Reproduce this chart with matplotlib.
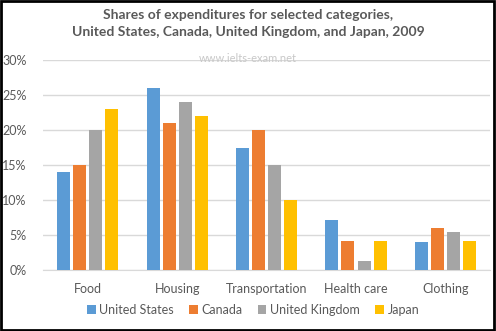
import numpy as np
import matplotlib.pyplot as plt
from matplotlib.patches import Rectangle

categories = ["Food", "Housing", "Transportation", "Health care", "Clothing"]
countries = ["United States", "Canada", "United Kingdom", "Japan"]

us = [14, 26, 17.4, 7.1, 4.0]
canada = [15, 21, 20, 4.2, 6.0]
uk = [20, 24, 15, 1.3, 5.5]
japan = [23, 22, 10, 4.2, 4.2]

colors = ["#5B9BD5", "#ED7D31", "#A5A5A5", "#FFC000"]
yticks = [0, 5, 10, 15, 20, 25, 30]

plt.rcParams['font.family'] = ['Lato', 'DejaVu Sans']

fig = plt.figure(figsize=(4.96, 3.31), dpi=100)
ax = fig.add_axes([0.087, 0.184, 0.901, 0.635])

x = np.arange(len(categories))
width = 0.145
pitch = 0.18
series = [us, canada, uk, japan]
for i, vals in enumerate(series):
    ax.bar(x + (i - 1.5) * pitch, vals, width, color=colors[i],
           label=countries[i], zorder=3)

ax.set_xlim(-0.5, len(categories) - 0.5)
ax.set_ylim(0, 30)
ax.set_yticks(yticks)
ax.set_yticklabels([f"{t}%" for t in yticks])
ax.set_xticks(x)
ax.set_xticklabels(categories)
ax.tick_params(axis="both", length=0, labelsize=9, colors="#595959")
ax.tick_params(axis="x", pad=9)
ax.tick_params(axis="y", pad=12)
ax.yaxis.grid(True, color="#D9D9D9", linewidth=1, zorder=0)
for s in ["top", "right", "left"]:
    ax.spines[s].set_visible(False)
ax.spines["bottom"].set_color("#D9D9D9")

fig.text(0.5, 0.955, "Shares of expenditures for selected categories,",
         ha="center", va="center", fontsize=10, fontweight="bold", color="#595959")
fig.text(0.5, 0.902, "United States, Canada, United Kingdom, and Japan, 2009",
         ha="center", va="center", fontsize=10, fontweight="bold", color="#595959")
fig.text(0.5, 0.822, "www.ielts-exam.net", ha="center", va="center",
         fontsize=8, color="#C8C8C8")

fig.legend(loc="center", bbox_to_anchor=(0.51, 0.063), ncol=4, frameon=False,
           fontsize=9, labelcolor="#595959", handlelength=0.7, handleheight=0.7,
           handletextpad=0.3, columnspacing=1.2)

fig.patches.append(Rectangle((0.002, 0.003), 0.994, 0.994, transform=fig.transFigure,
                             fill=False, edgecolor="black", linewidth=2))

fig.savefig("out.png", dpi=100)
